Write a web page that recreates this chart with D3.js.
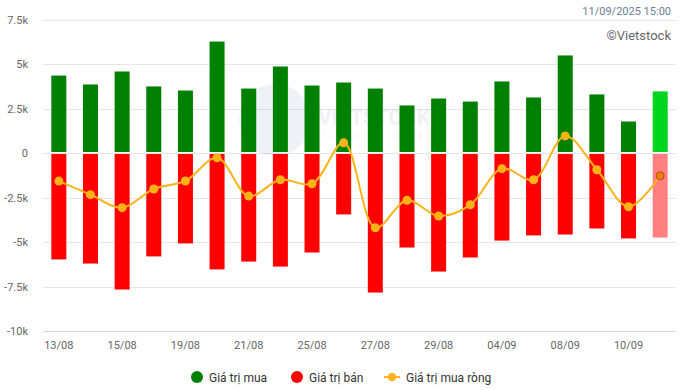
<!DOCTYPE html>
<html><head><meta charset="utf-8">
<script src="https://cdn.jsdelivr.net/npm/d3@7"></script>
<style>body{margin:0;background:#fff;}svg{display:block;font-family:Roboto,"Noto Sans",sans-serif;}</style>
</head><body><svg id="c" width="680" height="390"></svg>
<script>
const categories = ["13/08","14/08","15/08","18/08","19/08","20/08","21/08","22/08","25/08","26/08","27/08","28/08","29/08","03/09","04/09","05/09","08/09","09/09","10/09","11/09"];
const buyValues = [4350,3850,4580,3740,3510,6260,3620,4860,3790,3960,3620,2670,3060,2890,4020,3120,5480,3290,1770,3460];
const sellValues = [-5980,-6210,-7670,-5810,-5080,-6540,-6100,-6380,-5590,-3450,-7840,-5310,-6660,-5870,-4920,-4630,-4580,-4240,-4800,-4750];
const netValues = [-1580,-2340,-3070,-2020,-1570,-270,-2420,-1500,-1730,570,-4200,-2660,-3540,-2910,-880,-1500,960,-940,-3020,-1280];
const yTicks = [-10000,-7500,-5000,-2500,0,2500,5000,7500];
const xLabelShown = ["13/08","15/08","19/08","21/08","25/08","27/08","29/08","04/09","08/09","10/09"];
const legendItems = ["Giá trị mua","Giá trị bán","Giá trị mua ròng"];

const svg = d3.select("#c");
const L = 43, R = 676, T = 19.5, B = 331;
const x = d3.scaleBand().domain(categories).range([L, R]).paddingInner(0.526).paddingOuter(0.263);
const y = d3.scaleLinear().domain([-10000, 7500]).range([B, T]);
const fmt = v => v === 0 ? "0" : (v/1000) + "k";
const last = categories[categories.length-1];

// gridlines
svg.append("g").selectAll("line").data(yTicks.filter(t => t !== -10000)).join("line")
  .attr("x1", L).attr("x2", R).attr("y1", d => Math.round(y(d))+0.5).attr("y2", d => Math.round(y(d))+0.5)
  .attr("stroke", "#e6e6e6").attr("stroke-width", 1);

// watermark
const wm = svg.append("g").attr("opacity", 0.07);
wm.append("circle").attr("cx", 275).attr("cy", 120).attr("r", 36).attr("fill", "#1f4e8c");
wm.append("text").attr("x", 318).attr("y", 125).attr("font-size", 22).attr("font-weight", "bold").attr("fill", "#1f4e8c").attr("textLength", 112).attr("lengthAdjust", "spacingAndGlyphs").text("VIETSTOCK");
wm.append("text").attr("x", 322).attr("y", 138).attr("font-size", 8).attr("fill", "#1f4e8c").attr("textLength", 100).attr("lengthAdjust", "spacing").text("vietstock news");

// axis line
svg.append("line").attr("x1", L).attr("x2", R).attr("y1", B+0.5).attr("y2", B+0.5).attr("stroke", "#ccd6eb");

// y axis labels
const yAxis = d3.axisLeft(y).tickValues(yTicks).tickFormat(fmt).tickSize(0).tickPadding(0);
const ya = svg.append("g").attr("transform", "translate(28,0)").call(yAxis);
ya.select(".domain").remove();
ya.selectAll("text").attr("font-size", 11).attr("fill", "#666666").attr("font-family", "Roboto,sans-serif");

// x axis labels
const xAxis = d3.axisBottom(x).tickValues(xLabelShown).tickSize(0).tickPadding(0);
const xa = svg.append("g").attr("transform", `translate(0,${B})`).call(xAxis);
xa.select(".domain").remove();
xa.selectAll("text").attr("dy", 0).attr("y", 18).attr("font-size", 11).attr("fill", "#666666").attr("font-family", "Roboto,sans-serif");

// buy bars
svg.append("g").selectAll("rect").data(buyValues).join("rect")
  .attr("x", (d,i) => x(categories[i])).attr("width", x.bandwidth())
  .attr("y", d => y(d)).attr("height", d => y(0) - 1 - y(d))
  .attr("fill", (d,i) => categories[i] === last ? "#00d41c" : "#008000");

// sell bars
svg.append("g").selectAll("rect").data(sellValues).join("rect")
  .attr("x", (d,i) => x(categories[i])).attr("width", x.bandwidth())
  .attr("y", y(0) + 1).attr("height", d => y(d) - y(0) - 1)
  .attr("fill", (d,i) => categories[i] === last ? "#ff8080" : "#ff0000");

// net line
const cx = i => x(categories[i]) + x.bandwidth()/2;
const line = d3.line().x((d,i) => cx(i)).y(d => y(d)).curve(d3.curveCatmullRom.alpha(0.5));
svg.append("path").datum(netValues).attr("d", line).attr("fill", "none").attr("stroke", "#ffb319").attr("stroke-width", 2);
svg.append("g").selectAll("circle").data(netValues).join("circle")
  .attr("cx", (d,i) => cx(i)).attr("cy", d => y(d)).attr("r", (d,i) => categories[i] === last ? 4 : 4.5)
  .attr("fill", (d,i) => categories[i] === last ? "#ff7a00" : "#ffb319")
  .attr("stroke", (d,i) => categories[i] === last ? "#a0501e" : "none").attr("stroke-width", 1);

// top-right texts
svg.append("text").attr("x", 671).attr("y", 15).attr("text-anchor", "end").attr("font-size", 11).attr("fill", "#6b7f99").text("11/09/2025 15:00");
svg.append("text").attr("x", 671).attr("y", 40).attr("text-anchor", "end").attr("font-size", 13).attr("fill", "#666666").text("©Vietstock");

// legend
const lg = svg.append("g").attr("font-size", 12).attr("fill", "#333333");
lg.append("circle").attr("cx", 197).attr("cy", 377).attr("r", 6).attr("fill", "#008000");
lg.append("text").attr("x", 209).attr("y", 381.5).text(legendItems[0]);
lg.append("circle").attr("cx", 297).attr("cy", 377).attr("r", 6).attr("fill", "#ff0000");
lg.append("text").attr("x", 309).attr("y", 381.5).text(legendItems[1]);
lg.append("line").attr("x1", 384).attr("x2", 400).attr("y1", 377).attr("y2", 377).attr("stroke", "#ffb319").attr("stroke-width", 2);
lg.append("circle").attr("cx", 392).attr("cy", 377).attr("r", 4).attr("fill", "#ffb319");
lg.append("text").attr("x", 406).attr("y", 381.5).text(legendItems[2]);
</script></body></html>
